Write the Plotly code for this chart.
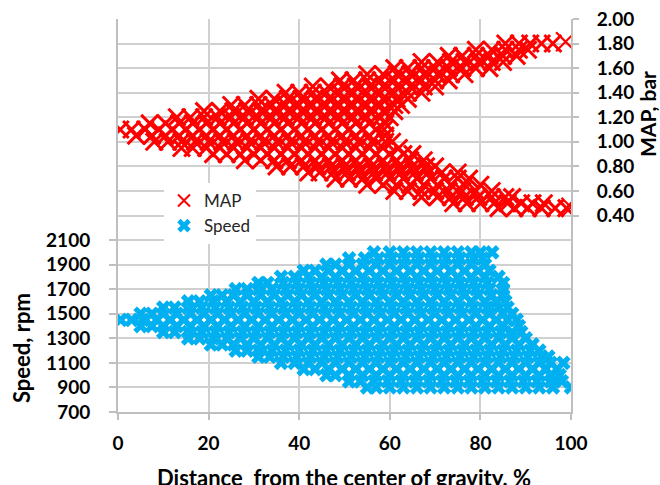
import plotly.graph_objects as go

# ---------------- data ----------------
# Speed series: engine-speed levels (rpm) and, for each level, the distances (%)
speed_levels = [2000, 1950, 1900, 1850, 1800, 1750, 1700, 1650, 1600, 1550, 1500, 1450,
                1400, 1350, 1300, 1250, 1200, 1150, 1100, 1050, 1000, 950, 900]
speed_dist = [
    [56.5, 60, 63, 66, 69, 72, 75, 78, 80, 82.6],
    [51, 54.5, 57.5, 60.5, 63.5, 66.5, 69.5, 72.5, 75.5, 78.5, 80.5],
    [46, 48, 51, 54, 57, 60, 63, 66, 69, 72, 75, 78, 81],
    [41, 43.5, 46.5, 49.5, 52.5, 55.5, 58.5, 61.5, 64.5, 67.5, 70.5, 73.5, 76.5, 79.5, 82],
    [36, 39, 42, 45, 48, 51, 54, 57, 60, 63, 66, 69, 72, 75, 78, 81, 84],
    [31, 33, 36.5, 39.5, 42.5, 45.5, 48.5, 51.5, 54.5, 57.5, 60.5, 63.5, 66.5, 69.5, 72.5, 75.5, 78.5, 81.5, 85],
    [26, 28.5, 31, 34, 37, 40, 43, 46, 49, 52, 55, 58, 61, 64, 67, 70, 73, 76, 79, 82, 85],
    [20.5, 23, 25.5, 28.5, 31.5, 34.5, 37.5, 40.5, 43.5, 46.5, 49.5, 52.5, 55.5, 58.5, 61.5, 64.5, 67.5, 70.5,
     73.5, 76.5, 79.5, 82.5, 85],
    [15.5, 18, 21, 24, 27, 30, 33, 36, 39, 42, 45, 48, 51, 54, 57, 60, 63, 66, 69, 72, 75, 78, 81, 83.5, 85.5],
    [10, 12.5, 15.5, 18.5, 21.5, 24.5, 27.5, 30.5, 33.5, 36.5, 39.5, 42.5, 45.5, 48.5, 51.5, 54.5, 57.5, 60.5,
     63.5, 66.5, 69.5, 72.5, 75.5, 78.5, 81.5, 84, 86],
    [5, 7.5, 10, 13, 16, 19, 22, 25, 28, 31, 34, 37, 40, 43, 46, 49, 52, 55, 58, 61, 64, 67, 70, 73, 76, 79,
     82, 85, 87],
    [0.6, 3, 5.5, 8.5, 11.5, 14.5, 17.5, 20.5, 23.5, 26.5, 29.5, 32.5, 35.5, 38.5, 41.5, 44.5, 47.5, 50.5, 53.5,
     56.5, 59.5, 62.5, 65.5, 68.5, 71.5, 74.5, 77.5, 80.5, 83.5, 86, 88],
    [5, 7.5, 10, 13, 16, 19, 22, 25, 28, 31, 34, 37, 40, 43, 46, 49, 52, 55, 58, 61, 64, 67, 70, 73, 76, 79,
     82, 85, 88.5],
    [10, 12.5, 15.5, 18.5, 21.5, 24.5, 27.5, 30.5, 33.5, 36.5, 39.5, 42.5, 45.5, 48.5, 51.5, 54.5, 57.5, 60.5,
     63.5, 66.5, 69.5, 72.5, 75.5, 78.5, 81.5, 84.5, 87, 89],
    [15.5, 18, 21, 24, 27, 30, 33, 36, 39, 42, 45, 48, 51, 54, 57, 60, 63, 66, 69, 72, 75, 78, 81, 84, 87, 90],
    [20.5, 23, 25.5, 28.5, 31.5, 34.5, 37.5, 40.5, 43.5, 46.5, 49.5, 52.5, 55.5, 58.5, 61.5, 64.5, 67.5, 70.5,
     73.5, 76.5, 79.5, 82.5, 85.5, 88.5, 91.5],
    [26, 28.5, 31, 34, 37, 40, 43, 46, 49, 52, 55, 58, 61, 64, 67, 70, 73, 76, 79, 82, 85, 88, 91, 93],
    [31, 33.5, 36.5, 39.5, 42.5, 45.5, 48.5, 51.5, 54.5, 57.5, 60.5, 63.5, 66.5, 69.5, 72.5, 75.5, 78.5, 81.5,
     84.5, 87.5, 90.5, 93.5, 95],
    [36, 39, 42, 45, 48, 51, 54, 57, 60, 63, 66, 69, 72, 75, 78, 81, 84, 87, 90, 93, 95.5, 98.3],
    [41, 43.5, 46.5, 49.5, 52.5, 55.5, 58.5, 61.5, 64.5, 67.5, 70.5, 73.5, 76.5, 79.5, 82.5, 85.5, 88.5, 91.5,
     94.5, 97],
    [46, 48, 51, 54, 57, 60, 63, 66, 69, 72, 75, 78, 81, 84, 87, 90, 93, 95.5, 97.5],
    [51, 53.5, 56.5, 59.5, 62.5, 65.5, 68.5, 71.5, 74.5, 77.5, 80.5, 83.5, 86.5, 89.5, 92.5, 95.5, 98],
    [55, 57, 60, 63, 66, 69, 72, 75, 78, 81, 84, 87, 90, 93, 96, 100],
]

# MAP series: manifold-pressure levels (bar) and, for each level, the distances (%)
map_levels = [1.80, 1.75, 1.70, 1.65, 1.60, 1.55, 1.50, 1.45, 1.40, 1.35, 1.30, 1.25, 1.20, 1.15, 1.10,
              1.05, 1.00, 0.95, 0.90, 0.85, 0.80, 0.75, 0.70, 0.65, 0.60, 0.55, 0.50, 0.46]
map_dist = [
    [85.5, 88.5, 91, 93.5, 96],
    [79, 82.5, 85.5, 88.5, 90.5],
    [73, 76, 79, 82, 85, 88],
    [67, 70.5, 73.5, 76.5, 79.5, 82.5, 85],
    [61, 64, 67, 70, 73, 76, 79, 82],
    [55, 58.5, 61.5, 64.5, 67.5, 70.5, 73.5, 76.5],
    [49, 52, 55, 58, 61, 64, 67, 70, 73],
    [43, 46.5, 49.5, 52.5, 55.5, 58.5, 61.5, 64.5, 67.5, 70],
    [37, 40, 43, 46, 49, 52, 55, 58, 61, 64, 67],
    [31, 34.5, 37.5, 40.5, 43.5, 46.5, 49.5, 52.5, 55.5, 58.5, 61.5, 64],
    [25, 28, 31, 34, 37, 40, 43, 46, 49, 52, 55, 58, 61, 62.5],
    [19, 22.5, 25.5, 28.5, 31.5, 34.5, 37.5, 40.5, 43.5, 46.5, 49.5, 52.5, 55.5, 58.5, 61],
    [13, 16, 19, 22, 25, 28, 31, 34, 37, 40, 43, 46, 49, 52, 55, 58, 60],
    [7, 10.5, 13.5, 16.5, 19.5, 22.5, 25.5, 28.5, 31.5, 34.5, 37.5, 40.5, 43.5, 46.5, 49.5, 52.5, 55.5, 59],
    [0.5, 3, 6, 9, 12, 15, 18, 21, 24, 27, 30, 33, 36, 39, 42, 45, 48, 51, 54, 57, 58.7],
    [4, 7.5, 10.5, 13.5, 16.5, 19.5, 22.5, 25.5, 28.5, 31.5, 34.5, 37.5, 40.5, 43.5, 46.5, 49.5, 52.5, 55.5, 59],
    [8, 11, 14, 17, 20, 23, 26, 29, 32, 35, 38, 41, 44, 47, 50, 53, 56, 59, 60.5],
    [14, 16.5, 19.5, 22.5, 25.5, 28.5, 31.5, 34.5, 37.5, 40.5, 43.5, 46.5, 49.5, 52.5, 55.5, 58.5, 62],
    [21, 24, 27, 30, 33, 36, 39, 42, 45, 48, 51, 54, 57, 60, 63, 65],
    [28, 31.5, 34.5, 37.5, 40.5, 43.5, 46.5, 49.5, 52.5, 55.5, 58.5, 61.5, 64.5, 67.5],
    [35, 38, 41, 44, 47, 50, 53, 56, 59, 62, 65, 68, 70],
    [42, 44.5, 47.5, 50.5, 53.5, 56.5, 59.5, 62.5, 65.5, 68.5, 71.5, 75],
    [48, 51, 54, 57, 60, 63, 66, 69, 72, 75, 77.5],
    [55, 58.5, 61.5, 64.5, 67.5, 70.5, 73.5, 76.5, 80],
    [61, 64, 67, 70, 73, 76, 79, 82.5],
    [67, 70.5, 73.5, 76.5, 79.5, 82.5, 85.5, 87],
    [74, 77, 80, 83, 86, 89, 91.5, 94],
    [84, 87.5, 90.5, 93.5, 96.5, 99],
]
# the two extreme MAP points drawn larger in the reference
map_end_dist = [98.8, 100]
map_end_val = [1.815, 0.467]

x_ticks = [0, 20, 40, 60, 80, 100]
speed_ticks = [700, 900, 1100, 1300, 1500, 1700, 1900, 2100]
map_ticks = [0.4, 0.6, 0.8, 1.0, 1.2, 1.4, 1.6, 1.8, 2.0]

# ---------------- flatten ----------------
x_speed, y_speed = [], []
for lvl, row in zip(speed_levels, speed_dist):
    x_speed += row
    y_speed += [lvl] * len(row)
x_map, y_map = [], []
for lvl, row in zip(map_levels, map_dist):
    x_map += row
    y_map += [lvl] * len(row)

RED = "#FF0000"
BLUE = "#00B0F0"
GRID = "#D0D0D0"
AX = "#BFBFBF"
FONT = "Lato"

fig = go.Figure()
fig.add_trace(go.Scatter(
    x=x_map, y=y_map, mode="markers", name="MAP", yaxis="y2",
    marker=dict(symbol="x-thin", size=17, color=RED, line=dict(width=3, color=RED)),
))
fig.add_trace(go.Scatter(
    x=map_end_dist, y=map_end_val, mode="markers", yaxis="y2", showlegend=False,
    marker=dict(symbol="x-thin", size=19, color=RED, line=dict(width=2.2, color=RED)),
))
fig.add_trace(go.Scatter(
    x=x_speed, y=y_speed, mode="markers", name="Speed",
    marker=dict(symbol="x", size=13, color=BLUE, line=dict(width=0)),
))

tickfont = dict(family=FONT, size=19, color="black", weight="bold")

fig.update_layout(
    template="none",
    width=660, height=485,
    margin=dict(l=118, r=89, t=19, b=73),
    paper_bgcolor="white", plot_bgcolor="rgba(0,0,0,0)",
    showlegend=True,
    legend=dict(
        x=(164 - 118) / 453, y=(412 - 183) / 393, xanchor="left", yanchor="top",
        bgcolor="white", borderwidth=0, itemsizing="constant",
        font=dict(family=FONT, size=17, color="#262626"),
    ),
    xaxis=dict(
        range=[0, 100], tickvals=x_ticks, showgrid=True, gridcolor=GRID, gridwidth=2,
        zeroline=False, showline=True, linecolor=AX, linewidth=2,
        ticks="outside", ticklen=6, tickcolor=AX, tickwidth=1.5, tickfont=tickfont,
        ticklabelstandoff=7,
    ),
    yaxis=dict(
        range=[700, 3900], tickvals=speed_ticks, showgrid=True, gridcolor=GRID, gridwidth=2,
        zeroline=False, showline=True, linecolor=AX, linewidth=2,
        ticks="outside", ticklen=7, tickcolor=AX, tickwidth=1.5, tickfont=tickfont,
        ticklabelstandoff=15,
    ),
    yaxis2=dict(
        range=[-1.2, 2.0], overlaying="y", side="right",
        tickvals=map_ticks, ticktext=[f"{v:.2f}" for v in map_ticks],
        showgrid=True, gridcolor=GRID, gridwidth=2,
        zeroline=False, showline=True, linecolor=AX, linewidth=2,
        ticks="outside", ticklen=6, tickcolor=AX, tickwidth=1.5, tickfont=tickfont,
        ticklabelstandoff=14,
    ),
    annotations=[
        dict(text="Speed, rpm", xref="paper", yref="paper", x=(21 - 118) / 453, y=(412 - 348) / 393,
             textangle=-90, showarrow=False, xanchor="center", yanchor="middle",
             font=dict(family=FONT, size=22, color="black", weight="bold")),
        dict(text="MAP, bar", xref="paper", yref="paper", x=(647 - 118) / 453, y=(412 - 114) / 393,
             textangle=-90, showarrow=False, xanchor="center", yanchor="middle",
             font=dict(family=FONT, size=21, color="black", weight="bold")),
        dict(text="Distance  from the center of gravity, %", xref="paper", yref="paper",
             x=(344 - 118) / 453, y=(412 - 477) / 393, showarrow=False,
             xanchor="center", yanchor="middle",
             font=dict(family=FONT, size=22, color="black", weight="bold")),
    ],
)

fig.write_html("out.html")
